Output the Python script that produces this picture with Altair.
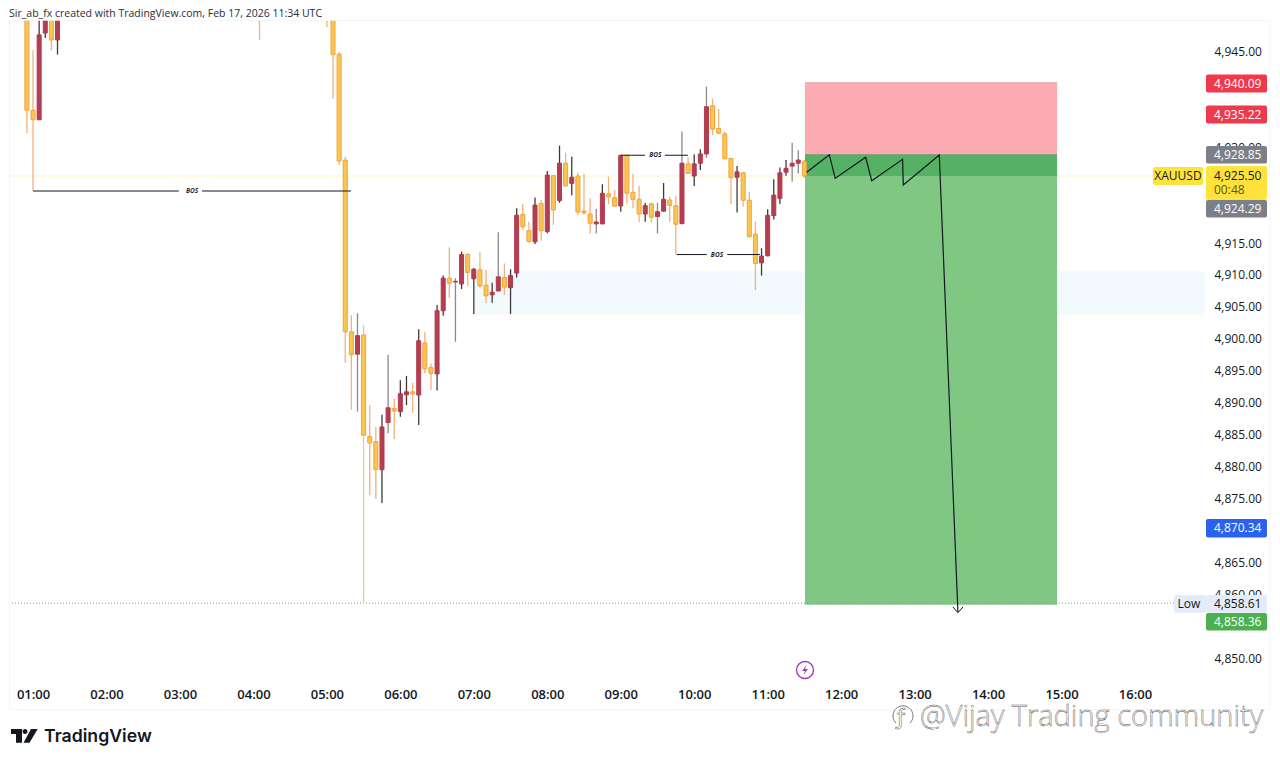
import altair as alt
import pandas as pd

FONT = "Open Sans"
HOUR_TICKS = list(range(1, 17))
# 4,920 / 4,925 / 4,935 / 4,940 / 4,855 / 4,870 sit fully behind the price badges
PRICE_TICKS = [4850, 4860, 4865, 4875, 4880, 4885, 4890, 4895, 4900, 4905, 4910, 4915, 4930, 4945]

# 5-minute bars, numbered from 01:00
bar_no = [-1, 0, 1, 2, 3, 4, 37, 48] + list(range(49, 127))
opens = [4955.0, 4935.8, 4934.3, 4947.9, 4951.0, 4946.8, 4955.0, 4956.0,
 4953.0, 4944.6, 4928.0, 4901.1, 4897.6, 4900.6, 4884.7, 4883.9, 4879.5, 4886.9,
 4889.1, 4888.6, 4891.25, 4891.7, 4891.2, 4899.35, 4895.5, 4894.5, 4904.4, 4909.5,
 4908.9, 4908.6, 4913.2, 4909.4, 4910.8, 4908.4, 4906.9, 4907.5, 4909.6, 4908.0,
 4910.3, 4919.5, 4916.95, 4915.2, 4921.2, 4916.8, 4925.55, 4921.65, 4927.5, 4924.35,
 4925.5, 4920.0, 4919.55, 4918.0, 4918.0, 4922.7, 4922.1, 4920.8, 4928.75, 4922.95,
 4921.85, 4919.55, 4921.15, 4919.15, 4920.0, 4921.75, 4920.85, 4918.05, 4927.4, 4925.5,
 4927.5, 4928.95, 4936.5, 4932.95, 4932.1, 4928.25, 4925.3, 4926.0, 4921.7, 4916.4,
 4911.9, 4913.0, 4919.3, 4922.0, 4926.1, 4927.05, 4927.5, 4927.75]
highs = [4957.0, 4945.2, 4952.0, 4952.0, 4952.0, 4952.0, 4956.0, 4958.0,
 4954.0, 4944.9, 4928.5, 4903.7, 4904.0, 4902.2, 4889.6, 4886.2, 4888.1, 4897.5,
 4890.6, 4893.5, 4894.2, 4893.1, 4901.5, 4901.1, 4896.1, 4905.3, 4909.9, 4914.3,
 4909.5, 4913.65, 4913.4, 4911.1, 4913.55, 4910.8, 4908.8, 4916.7, 4911.8, 4910.9,
 4920.45, 4921.1, 4918.35, 4922.15, 4921.75, 4926.3, 4925.65, 4930.25, 4929.15, 4928.5,
 4926.0, 4925.8, 4922.0, 4920.35, 4924.2, 4925.4, 4923.3, 4928.8, 4928.8, 4925.8,
 4923.95, 4921.3, 4921.3, 4921.3, 4924.4, 4922.25, 4922.35, 4932.45, 4928.45, 4928.9,
 4929.7, 4939.5, 4937.65, 4936.0, 4932.45, 4928.3, 4927.05, 4926.1, 4923.05, 4918.35,
 4914.2, 4920.3, 4925.0, 4926.85, 4928.0, 4930.7, 4929.55, 4928.0]
lows = [4932.2, 4923.2, 4934.3, 4947.1, 4945.2, 4944.5, 4946.8, 4948.8,
 4937.6, 4927.2, 4896.2, 4888.9, 4888.6, 4858.6, 4875.5, 4874.9, 4874.3, 4885.2,
 4884.3, 4887.8, 4889.6, 4888.4, 4886.5, 4894.65, 4892.0, 4891.9, 4903.6, 4906.4,
 4899.55, 4907.8, 4908.3, 4903.9, 4908.0, 4905.6, 4905.65, 4907.4, 4906.9, 4903.9,
 4909.6, 4917.05, 4915.0, 4914.85, 4915.35, 4916.55, 4917.85, 4921.3, 4923.9, 4922.5,
 4919.4, 4919.4, 4916.5, 4916.5, 4917.95, 4921.1, 4920.65, 4919.9, 4921.2, 4920.45,
 4918.25, 4918.35, 4918.2, 4916.5, 4919.9, 4918.35, 4913.2, 4917.9, 4925.8, 4923.95,
 4926.45, 4928.35, 4931.9, 4932.1, 4928.1, 4921.1, 4919.8, 4920.7, 4915.9, 4907.65,
 4909.9, 4912.95, 4918.7, 4921.1, 4925.55, 4924.6, 4925.9, 4925.2]
closes = [4935.8, 4934.3, 4947.6, 4951.0, 4946.8, 4951.0, 4953.0, 4951.0,
 4944.5, 4927.85, 4901.1, 4897.5, 4900.5, 4884.9, 4883.7, 4879.5, 4886.2, 4889.2,
 4888.7, 4891.4, 4891.7, 4891.4, 4899.7, 4895.3, 4894.6, 4904.4, 4909.5, 4908.7,
 4909.0, 4913.2, 4910.4, 4910.9, 4908.3, 4906.75, 4907.3, 4909.7, 4908.1, 4909.9,
 4919.35, 4917.55, 4915.25, 4920.95, 4916.95, 4925.65, 4920.2, 4927.5, 4923.95, 4925.3,
 4919.85, 4919.75, 4918.1, 4918.3, 4922.8, 4922.25, 4920.8, 4928.75, 4922.8, 4921.85,
 4919.55, 4920.85, 4919.05, 4919.9, 4921.85, 4920.9, 4917.95, 4927.5, 4925.9, 4927.4,
 4928.95, 4936.35, 4932.85, 4932.2, 4928.2, 4925.25, 4926.15, 4921.7, 4916.0, 4911.8,
 4912.95, 4919.35, 4922.5, 4926.0, 4926.7, 4927.5, 4928.0, 4925.5]
gray_wick_bars = [53, 58, 69, 76, 92, 102, 106, 110, 124, 125]
UP, UP_EDGE, DOWN, DOWN_EDGE = "#b53d50", "#b03a4e", "#f9c650", "#f0a23c"

# time is in hours on the axis
bos_1 = {"hour": [1.0, 2.985, 3.3, 5.328], "price": [4923.15] * 4, "seg": [0, 0, 1, 1]}
bos_2 = {"hour": [9.003, 9.33, 9.6, 9.915], "price": [4928.75] * 4, "seg": [0, 0, 1, 1]}
bos_3 = {"hour": [9.761, 10.17, 10.45, 10.895], "price": [4913.2] * 4, "seg": [0, 0, 1, 1]}
bos_labels = {"hour": [3.164, 9.47, 10.31], "price": [4923.15, 4928.75, 4913.2]}
path_hours = [11.531, 11.839, 11.92, 12.334, 12.416, 12.837, 12.846, 13.336, 13.59]
path_prices = [4926.08, 4928.84, 4925.14, 4928.43, 4924.76, 4928.12, 4924.09, 4928.79, 4857.21]
head_hours = [13.522, 13.59, 13.658]
head_prices = [4858.0, 4857.1, 4858.0]

X_SCALE = alt.Scale(domain=[0.673, 16.953], nice=False, zero=False, padding=0)
Y_SCALE = alt.Scale(domain=[4846.57, 4949.93], nice=False, zero=False)

x_axis = alt.Axis(values=HOUR_TICKS, domain=False, ticks=False, grid=False, title=None,
                  labelExpr="(datum.value<10?'0':'')+datum.value+':00'",
                  labelFont=FONT, labelFontSize=13, labelFontWeight=600, labelColor="#131722",
                  labelPadding=8, labelOverlap=False, labelFlush=False)
y_axis = alt.Axis(values=PRICE_TICKS, orient="right", domain=False, ticks=False, grid=False, title=None,
                  format=",.2f", labelFont=FONT, labelFontSize=12, labelColor="#131722",
                  labelPadding=9, labelOverlap=False, labelAlign="left", labelFlush=False)


def X(field="hour"):
    return alt.X(f"{field}:Q", scale=X_SCALE, axis=x_axis)


def Y(field="price"):
    return alt.Y(f"{field}:Q", scale=Y_SCALE, axis=y_axis)


frame = pd.DataFrame({
    "k": bar_no, "o": opens, "h": highs, "l": lows, "c": closes})
frame["hour"] = 1 + frame.k * 5 / 60
frame["up"] = frame.c > frame.o
frame["fill"] = [UP if u else DOWN for u in frame.up]
frame["edge"] = [UP_EDGE if u else DOWN_EDGE for u in frame.up]
frame["wick"] = ["#8a8a8a" if k in gray_wick_bars else ("#3e3a3c" if u else "#f2b27a")
                 for k, u in zip(frame.k, frame.up)]
frame.loc[frame.k == 54, "wick"] = "#ecca9e"

layers = []


def zone(h1, h2, p1, p2, color, **kw):
    d = pd.DataFrame({"hour": [h1], "h2": [h2], "price": [p1], "p2": [p2]})
    return alt.Chart(d).mark_rect(color=color, clip=True, **kw).encode(
        x=X(), x2="h2:Q", y=Y(), y2="p2:Q")


def level(h1, h2, p, color, **kw):
    d = pd.DataFrame({"hour": [h1, h2], "price": [p, p]})
    return alt.Chart(d).mark_line(color=color, strokeWidth=1, **kw).encode(x=X(), y=Y())


layers.append(level(0.673, 16.953, 4925.5, "#fdf6c0"))

layers.append(zone(7.016, 16.953, 4910.6, 4903.7, "#f3fafe"))
layers.append(zone(11.508, 14.94, 4940.09, 4928.85, "#fdabb2"))
layers.append(zone(11.508, 14.94, 4928.85, 4925.5, "#55b163"))
layers.append(zone(11.508, 14.94, 4925.5, 4858.36, "#80c784"))
layers.append(level(11.508, 14.94, 4940.09, "#eb9fa7"))
layers.append(level(11.508, 14.94, 4928.85, "#8f9a78"))

layers.append(level(0.673, 16.55, 4858.61, "#8c95a0", strokeDash=[1, 2]))

layers.append(alt.Chart(frame).mark_rule(strokeWidth=1.3, clip=True).encode(
    x=X(), y=Y("h"), y2="l:Q", color=alt.Color("wick:N", scale=None, legend=None)))
layers.append(alt.Chart(frame).mark_bar(size=4, strokeWidth=1, clip=True).encode(
    x=X(), y=Y("o"), y2="c:Q",
    fill=alt.Fill("fill:N", scale=None, legend=None),
    stroke=alt.Stroke("edge:N", scale=None, legend=None)))

for b in (bos_1, bos_2, bos_3):
    layers.append(alt.Chart(pd.DataFrame(b)).mark_line(color="#131722", strokeWidth=1).encode(
        x=X(), y=Y(), detail="seg:N"))
bl = pd.DataFrame(bos_labels)
bl["t"] = "BOS"
layers.append(alt.Chart(bl).mark_text(font=FONT, fontSize=6.5, fontStyle="italic", fontWeight=700,
                                      color="#2a2e39").encode(x=X(), y=Y(), text="t:N"))

zig = pd.DataFrame({"hour": path_hours, "price": path_prices, "o": range(len(path_hours))})
layers.append(alt.Chart(zig).mark_line(color="#131722", strokeWidth=1.2).encode(x=X(), y=Y(), order="o:Q"))
head = pd.DataFrame({"hour": head_hours, "price": head_prices, "o": range(3)})
layers.append(alt.Chart(head).mark_line(color="#131722", strokeWidth=1).encode(x=X(), y=Y(), order="o:Q"))

ONE = pd.DataFrame({"a": [1]})
OX, OY = 9, 20  # page position of the plot corner


def box(x1, x2, y1, y2, color, **kw):
    return alt.Chart(ONE).mark_rect(color=color, **kw).encode(
        x=alt.value(x1 - OX), x2=alt.value(x2 - OX), y=alt.value(y1 - OY), y2=alt.value(y2 - OY))


def label(text, px, py, color="#131722", size=12, align="left", font=FONT, **kw):
    d = pd.DataFrame({"t": [text]})
    return alt.Chart(d).mark_text(color=color, fontSize=size, align=align, baseline="middle",
                                  font=font, **kw).encode(
        text="t:N", x=alt.value(px - OX), y=alt.value(py - OY))


# pane frame
for (a, b, c, d) in [(9, 1270, 20, 20.8), (9, 9.8, 20, 710), (9, 1270, 709.2, 710), (1269.5, 1270.3, 20, 710)]:
    layers.append(box(a, b, c, d, "#f1f3f5"))

badges = [
    ("4,940.09", 74.5, 92.5, "#ee3a4c", "#ffffff"),
    ("4,935.22", 105.5, 123.5, "#ee3a4c", "#ffffff"),
    ("4,928.85", 146, 163.5, "#7c7f88", "#ffffff"),
    ("4,924.29", 200, 217.5, "#7c7f88", "#ffffff"),
    ("4,870.34", 519, 537.5, "#2a62ee", "#ffffff"),
    ("4,858.61", 595, 612.7, "#e3ecf8", "#131722"),
    ("4,858.36", 613, 630.5, "#4caf50", "#ffffff"),
]
layers.append(box(1206, 1267, 166, 200, "#ffe33c", cornerRadius=2))
for text, y1, y2, fill, ink in badges:
    layers.append(box(1206, 1267, y1, y2, fill, cornerRadius=2))
    layers.append(label(text, 1214, (y1 + y2) / 2, color=ink))
layers.append(label("4,925.50", 1214, 175.5))
layers.append(label("00:48", 1214, 190, color="#5c5414"))
layers.append(box(1153, 1203, 167, 185, "#ffe33c", cornerRadius=2))
layers.append(label("XAUUSD", 1178, 176, align="center"))
layers.append(box(1174, 1206, 595, 612.7, "#e3ecf8", cornerRadius=2))
layers.append(label("Low", 1189, 604, align="center"))

# header, branding, watermark
layers.append(label("Sir_ab_fx created with TradingView.com, Feb 17, 2026 11:34 UTC", 9, 13.5, size=10.5, color="#2a2e39"))

layers.append(alt.Chart(ONE).mark_point(
    shape="M-13,-7H-2V6.7H-8V-2H-13ZM3.5,-4.5a2.5,2.5 0 1,0 -5,0a2.5,2.5 0 1,0 5,0ZM7,-7H13.7L5.5,6.7H-0.5Z",
    size=4, filled=True, color="#131722", opacity=1).encode(x=alt.value(24 - OX), y=alt.value(736 - OY)))
layers.append(label("TradingView", 44, 736.5, size=17.7, font="Inter", fontWeight=600))

layers.append(alt.Chart(ONE).mark_point(shape="circle", size=290, filled=True, fill="#ffffff", stroke="#9c3fb5",
                                        strokeWidth=1.4, opacity=1).encode(x=alt.value(805 - OX), y=alt.value(670 - OY)))
layers.append(alt.Chart(ONE).mark_point(shape="M1.5,-5L-3,1H0L-1.5,5L3,-1H0Z", size=4, filled=True,
                                        color="#9c3fb5", opacity=1).encode(x=alt.value(805 - OX), y=alt.value(670 - OY)))

layers.append(label("@Vijay Trading community", 920, 717, size=29, color="#ffffff", font="Open Sans",
                    fontWeight=300, stroke="#555555", strokeWidth=0.45))
layers.append(label("ƒ", 897, 718, size=24, color="#ffffff", font="Lato", stroke="#555555", strokeWidth=0.5))
layers.append(alt.Chart(ONE).mark_point(shape="M-7,7A10,10 0 1,1 7,7", size=4, filled=False, stroke="#555555",
                                        strokeWidth=0.8, opacity=1).encode(x=alt.value(903 - OX), y=alt.value(716 - OY)))

chart = alt.layer(*layers).properties(
    width=1196, height=660, background="#ffffff",
    padding={"left": 1, "top": 12, "right": 67, "bottom": 75},
    autosize=alt.AutoSizeParams(type="none"),
).configure_view(stroke=None)

chart.save("out.html", embed_options={"renderer": "svg", "actions": False})
